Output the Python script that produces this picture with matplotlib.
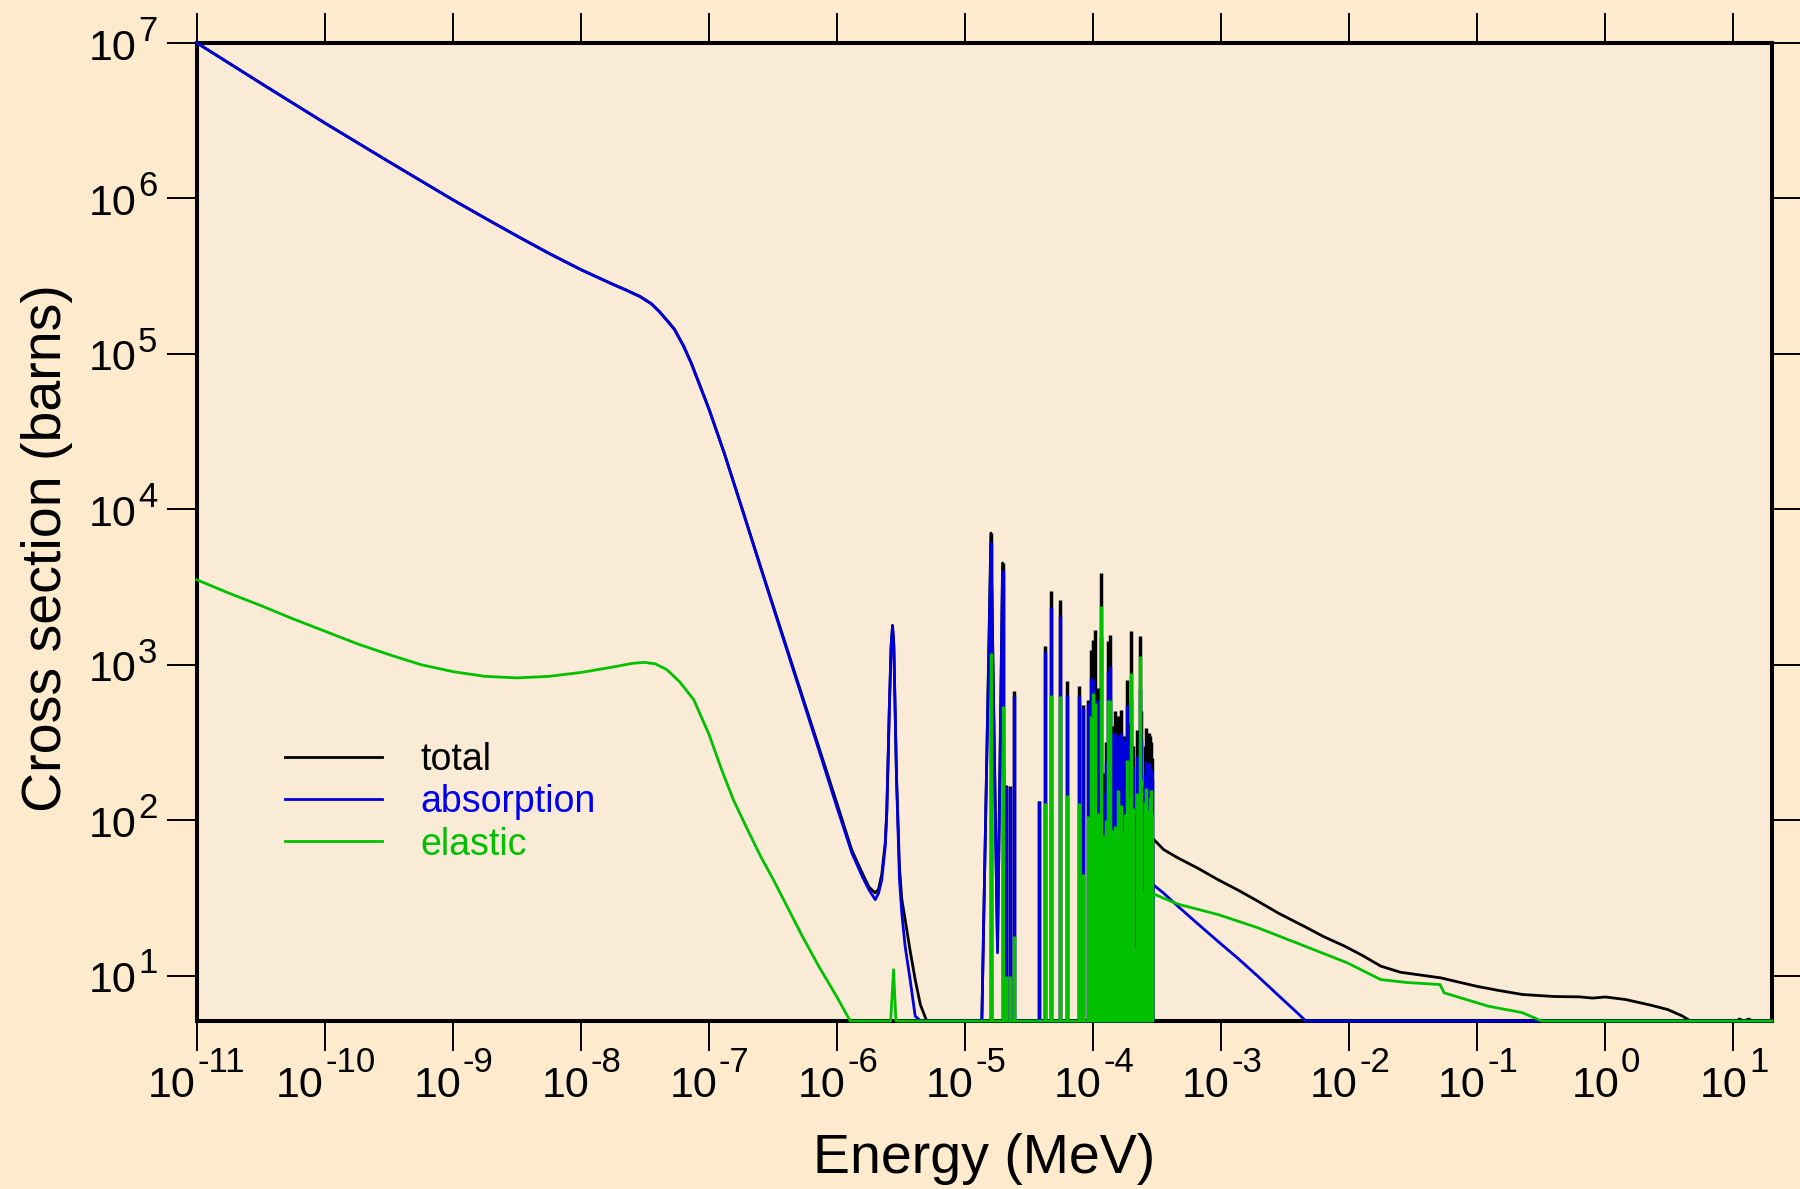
import numpy as np
import matplotlib
matplotlib.use("Agg")
import matplotlib.pyplot as plt
from matplotlib.ticker import NullLocator

plt.rcParams['font.family'] = ['Liberation Sans', 'DejaVu Sans']

YMIN = 5.1  # bottom of the plot, values below are drawn on the axis

# --- smooth curves (energy in MeV, cross section in barns) ---
e_total = [1e-11, 3.162e-11, 1e-10, 3.162e-10, 1e-9, 1.778e-9, 3.162e-9, 5.623e-9, 1e-8, 1.778e-8,
           2.239e-8, 2.89e-8, 3.548e-8, 4.074e-8, 4.677e-8, 5.370e-8, 6.310e-8, 7.244e-8, 8.110e-8, 1e-7,
           1.312e-7, 1.778e-7, 2.512e-7, 3.673e-7, 5.012e-7, 7.178e-7, 1e-6, 1.303e-6, 1.585e-6, 1.778e-6,
           1.986e-6, 2.109e-6, 2.234e-6, 2.377e-6, 2.443e-6, 2.518e-6, 2.553e-6, 2.642e-6, 2.710e-6, 2.773e-6,
           2.841e-6, 2.911e-6, 2.965e-6, 3.069e-6, 3.199e-6, 3.396e-6, 3.715e-6, 4.074e-6, 4.467e-6, 5.01e-6,
           1.35e-5, 1.59e-5, 1.79e-5, 1.96e-5, 2.05e-5, 2.93e-4, 2.93e-4,
           3.55e-4, 4.59e-4, 6.58e-4, 9.42e-4, 1.35e-3, 1.93e-3, 2.82e-3, 4.46e-3, 6.31e-3, 9.14e-3,
           1.26e-2, 1.76e-2, 2.51e-2, 5.18e-2, 0.1, 0.143, 0.225, 0.398, 0.631, 0.794,
           1.0, 1.44, 2.24, 3.06, 3.98, 4.62, 10.5, 11.2, 12.0, 13.2,
           14.1, 20]
total = [1.0e7, 5.50e6, 3.05e6, 1.72e6, 9.78e5, 7.47e5, 5.73e5, 4.43e5, 3.48e5, 2.80e5,
         2.58e5, 2.34e5, 2.10e5, 1.88e5, 1.65e5, 1.44e5, 1.13e5, 8.77e4, 6.9e4, 4.41e4,
         2.31e4, 1.06e4, 4330, 1640, 740, 297, 127, 64, 45, 37,
         34, 36, 45, 72, 115, 305, 500, 1330, 1790, 1330,
         500, 190, 120, 50, 31, 23, 14.5, 9.4, 6.5, 5,
         5, 7030, 15, 4510, 5, 5, 76,
         64.6, 57.1, 49.0, 41.4, 35.5, 30.1, 25.1, 20.7, 17.8, 15.5,
         13.5, 11.5, 10.5, 9.66, 8.51, 8.05, 7.55, 7.33, 7.29, 7.16,
         7.28, 7.01, 6.46, 6.05, 5.5, 5.0, 5, 5.25, 5.1, 5.25,
         5, 5]

e_absorption = [1e-11, 3.162e-11, 1e-10, 3.162e-10, 1e-9, 1.778e-9, 3.162e-9, 5.623e-9, 1e-8, 1.778e-8,
                2.239e-8, 2.89e-8, 3.548e-8, 4.074e-8, 4.677e-8, 5.370e-8, 6.310e-8, 7.244e-8, 8.110e-8, 1e-7,
                1.312e-7, 1.778e-7, 2.512e-7, 3.673e-7, 5.012e-7, 7.178e-7, 1e-6, 1.303e-6, 1.585e-6, 1.778e-6,
                1.986e-6, 2.109e-6, 2.234e-6, 2.377e-6, 2.443e-6, 2.518e-6, 2.553e-6, 2.642e-6, 2.710e-6, 2.773e-6,
                2.841e-6, 2.911e-6, 2.965e-6, 3.069e-6, 3.199e-6, 3.396e-6, 3.715e-6, 4.074e-6, 4.5e-6,
                1.35e-5, 1.59e-5, 1.79e-5, 1.96e-5, 2.05e-5, 2.93e-4, 2.93e-4,
                3.55e-4, 4.59e-4, 6.61e-4, 9.42e-4, 1.35e-3, 1.93e-3, 2.84e-3, 3.80e-3, 4.58e-3, 20]
absorption = [1.0e7, 5.50e6, 3.05e6, 1.72e6, 9.77e5, 7.46e5, 5.72e5, 4.42e5, 3.47e5, 2.79e5,
              2.57e5, 2.33e5, 2.09e5, 1.87e5, 1.64e5, 1.43e5, 1.12e5, 8.71e4, 6.84e4, 4.37e4,
              2.30e4, 1.05e4, 4270, 1600, 720, 285, 120, 61.5, 42.7, 35.5,
              30.8, 33.9, 41.5, 67.9, 111, 299, 490, 1312, 1766, 1312,
              490, 182, 111, 41.5, 25.3, 15.5, 9.44, 5.48, 5,
              5, 6050, 14, 3980, 5, 5, 38.5,
              33.9, 27.9, 21.4, 16.6, 12.9, 9.9, 7.36, 5.9, 5, 5]

e_elastic = [1e-11, 1.778e-11, 3.162e-11, 5.623e-11, 1e-10, 1.778e-10, 3.162e-10, 5.623e-10, 1e-9, 1.778e-9,
             3.162e-9, 5.623e-9, 1e-8, 1.778e-8, 2.512e-8, 3.105e-8, 3.802e-8, 4.677e-8, 5.888e-8, 7.586e-8,
             1e-7, 1.259e-7, 1.549e-7, 1.995e-7, 2.512e-7, 3.162e-7, 3.981e-7, 5.370e-7, 7.178e-7, 1e-6,
             1.265e-6, 2.62e-6, 2.76e-6, 2.88e-6, 2.93e-4, 2.93e-4,
             4.59e-4, 9.42e-4, 1.93e-3, 4.46e-3, 9.59e-3, 1.76e-2, 2.82e-2, 5.12e-2, 5.50e-2, 0.122,
             0.225, 0.318, 20]
elastic = [3516, 2884, 2399, 1972, 1641, 1365, 1161, 1000, 902, 841,
           822, 841, 891, 966, 1019, 1035, 1012, 929, 776, 596,
           355, 209, 135, 87, 59, 41.7, 28.8, 17.8, 11.5, 7.24,
           5, 5, 10.9, 5, 5, 33.6,
           28.8, 24.7, 20.3, 15.5, 12.1, 9.42, 9.02, 8.75, 7.74, 6.35,
           5.77, 5, 5]

# --- resolved resonances (peak energy in MeV, peak heights in barns) ---
res_energy = [1.59e-5, 1.96e-5, 2.08e-5, 2.24e-5, 2.42e-5, 3.78e-5, 4.20e-5, 4.65e-5, 5.55e-5, 6.30e-5,
              7.73e-5, 8.30e-5, 9.12e-5, 9.57e-5, 9.98e-5, 1.04e-4, 1.09e-4, 1.146e-4, 1.189e-4, 1.259e-4,
              1.306e-4, 1.361e-4, 1.429e-4, 1.489e-4, 1.563e-4, 1.641e-4, 1.730e-4, 1.778e-4, 1.849e-4, 1.905e-4,
              1.986e-4, 2.042e-4, 2.109e-4, 2.213e-4, 2.307e-4, 2.371e-4, 2.449e-4, 2.541e-4, 2.60e-4, 2.72e-4,
              2.786e-4, 2.84e-4, 2.884e-4]
res_total = [7030, 4510, 169, 165, 673, 133, 1325, 2965, 2620, 782,
             733, 553, 596, 1247, 1449, 1663, 708, 3880, 200, 320,
             1413, 1560, 401, 501, 466, 514, 346, 250, 800, 420,
             1637, 300, 110, 380, 1535, 500, 165, 300, 392, 364,
             350, 316, 250]
res_absorption = [6050, 3980, 165, 160, 625, 133, 1200, 2350, 2050, 641,
                  625, 526, 566, 820, 800, 596, 596, 1500, 150, 240,
                  906, 975, 364, 364, 346, 364, 330, 180, 553, 300,
                  600, 220, 100, 260, 700, 330, 132, 200, 239, 234,
                  220, 211, 180]
res_elastic = [1190, 540, 10, 10, 18, 5, 129, 641, 625, 146,
               129, 45, 106, 466, 658, 570, 111, 2370, 80, 100,
               596, 596, 87, 91, 157, 126, 83, 110, 245, 140,
               883, 120, 15, 150, 1132, 180, 35, 130, 161, 117,
               140, 157, 110]

x_exponents = list(range(-11, 2))
y_exponents = list(range(1, 8))

series = [
    ("total", e_total, total, res_total, "#000000", "#000000"),
    ("absorption", e_absorption, absorption, res_absorption, "#0000DD", "#0000EE"),
    ("elastic", e_elastic, elastic, res_elastic, "#00C000", "#00C000"),
]

fig = plt.figure(figsize=(18, 11.89), dpi=100, facecolor="#FEEBCD")
ax = fig.add_axes([0.1094, 0.1413, 0.875, 0.8226])
ax.set_facecolor("#FAEBD7")
ax.set_xscale("log")
ax.set_yscale("log")
ax.set_xlim(1e-11, 20)
ax.set_ylim(YMIN, 1e7)

handles = []
for z, (name, e, vals, res_vals, color, _) in enumerate(series):
    line, = ax.plot(e, np.clip(vals, YMIN, None), color=color, lw=2,
                    zorder=3 + z, clip_on=False, label=name)
    ax.vlines(res_energy, YMIN, res_vals, colors=color, lw=2.5, zorder=3 + z)
    handles.append(line)

# axes frame and ticks
for s in ax.spines.values():
    s.set_linewidth(2.9)
ax.set_xticks([10.0 ** k for k in x_exponents])
ax.set_yticks([10.0 ** k for k in y_exponents])
ax.xaxis.set_minor_locator(NullLocator())
ax.yaxis.set_minor_locator(NullLocator())
ax.tick_params(which="major", direction="out", length=21.6, width=1.4,
               top=True, right=True, labelbottom=False, labelleft=False)

# tick labels: "10" with a large exponent
BASE, EXP = 31, 25


def char_w(s, size):
    return sum(0.333 if c == "-" else 0.556 for c in s) * size


for k in x_exponents:
    wb = char_w("10", BASE)
    we = char_w(str(k), EXP)
    left = -(wb + we) / 2
    ax.annotate("10", xy=(10.0 ** k, 0), xycoords=ax.get_xaxis_transform(),
                xytext=(left, -55), textcoords="offset points",
                ha="left", va="baseline", fontsize=BASE)
    ax.annotate(str(k), xy=(10.0 ** k, 0), xycoords=ax.get_xaxis_transform(),
                xytext=(left + wb + 1, -37), textcoords="offset points",
                ha="left", va="baseline", fontsize=EXP)

for k in y_exponents:
    ax.annotate(str(k), xy=(0, 10.0 ** k), xycoords=ax.get_yaxis_transform(),
                xytext=(-28.5, 1.5), textcoords="offset points",
                ha="right", va="baseline", fontsize=EXP)
    ax.annotate("10", xy=(0, 10.0 ** k), xycoords=ax.get_yaxis_transform(),
                xytext=(-43.5, -12), textcoords="offset points",
                ha="right", va="baseline", fontsize=BASE)

ax.text(0.5, -0.1554, "Energy (MeV)", transform=ax.transAxes,
        ha="center", va="baseline", fontsize=40)
ax.text(-0.095, 0.4836, "Cross section (barns)", transform=ax.transAxes,
        rotation=90, ha="center", va="center", fontsize=40)

leg = ax.legend(handles=handles, loc="center left", bbox_to_anchor=(0.0559, 0.2237),
                frameon=False, fontsize=27, handlelength=2.6, handletextpad=1.0,
                labelspacing=0.17, borderpad=0, borderaxespad=0)
for txt, s in zip(leg.get_texts(), series):
    txt.set_color(s[5])

fig.savefig("out.png", dpi=100, facecolor=fig.get_facecolor())
